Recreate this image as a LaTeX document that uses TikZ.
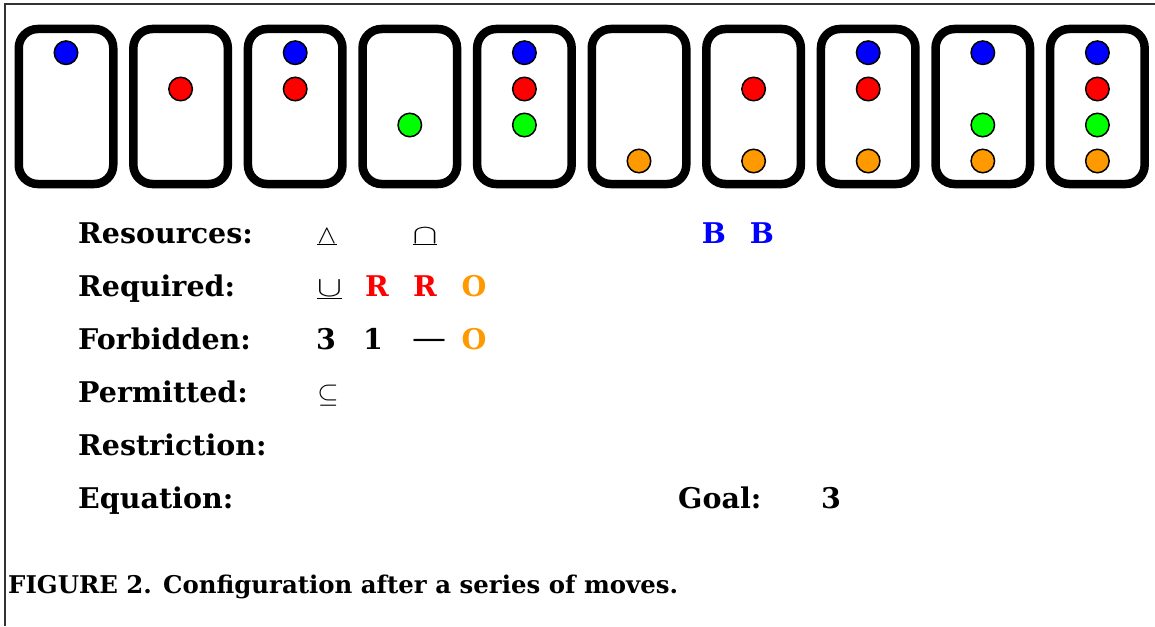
\documentclass[tikz,border=0pt]{standalone}
\usepackage{graphicx}
\usepackage{fontspec}
\setmainfont{DejaVu Serif}
\definecolor{cB}{HTML}{0000FF}
\definecolor{cR}{HTML}{FF0000}
\definecolor{cG}{HTML}{00FF00}
\definecolor{cO}{HTML}{FF9900}
\definecolor{frameg}{HTML}{333333}
\begin{document}
\begin{tikzpicture}[x=1pt,y=-1pt,
  card/.style={draw=black,line width=8.5pt,rounded corners=19pt,minimum width=94.5pt,minimum height=155pt,inner sep=0pt},
  dot/.style={circle,draw=black,line width=1.5pt,minimum size=23.5pt,inner sep=0pt},
  lab/.style={anchor=base west,inner sep=0pt,font=\fontsize{28.5}{32}\selectfont\bfseries},
  sym/.style={anchor=base,inner sep=0pt,font=\fontsize{28.5}{32}\selectfont\bfseries},
  msym/.style={anchor=base,inner sep=0pt,font=\fontsize{24.88}{30}\selectfont},
  dashtxt/.style={anchor=base,inner sep=0pt,font=\fontsize{34}{40}\selectfont},
  captxt/.style={anchor=base west,inner sep=0pt,font=\fontsize{24.4}{28}\selectfont\bfseries}]
\useasboundingbox (0,0) rectangle (1155,626);
\draw[frameg,line width=2pt] (1155,4.5) -- (4.5,4.5) -- (4.5,626);
% cards
\foreach \i/\cols in {1/{B/52.7},2/{R/89},3/{B/52.7,R/89},4/{G/125},5/{B/52.7,R/89,G/125},6/{O/161},7/{R/89,O/161},8/{B/52.7,R/89,O/161},9/{B/52.7,G/125,O/161},10/{B/52.7,R/89,G/125,O/161}}{
  \pgfmathsetmacro\cx{66+114.6*(\i-1)}
  \node[card] (card\i) at (\cx,106.5) {};
  \foreach \c/\yy in \cols {
    \node[dot,fill=c\c] (dot\i\c) at (\cx,\yy) {};
  }
}
% labels
\node[lab] (lres) at (78,243) {Resources:};
\node[lab] (lreq) at (78,296.5) {Required:};
\node[lab] (lfor) at (78,349.5) {Forbidden:};
\node[lab] (lper) at (78,402.5) {Permitted:};
\node[lab] (lrst) at (78,455.5) {Restriction:};
\node[lab] (lequ) at (78,508.5) {Equation:};
\node[lab] (lgoal) at (678,508.5) {Goal:};
\node[sym] (goalv) at (831,508.5) {3};
% resources
\node[msym] (s1) at (327,243) {\scalebox{1.15}[1.05]{$\underline{\wedge}$}};
\node[msym] (s2) at (425,243) {\scalebox{1.5}[1.1]{$\underline{\cap}$}};
\node[sym,text=cB] (b1) at (714,243) {B};
\node[sym,text=cB] (b2) at (762,243) {B};
% required
\node[msym] (s3) at (329.5,296.5) {\scalebox{1.5}[1.15]{$\underline{\cup}$}};
\node[sym,text=cR] (r1) at (377,296.5) {R};
\node[sym,text=cR] (r2) at (425,296.5) {R};
\node[sym,text=cO] (o1) at (474,296.5) {O};
% forbidden
\node[sym] (f1) at (326,349.5) {3};
\node[sym] (f2) at (373,349.5) {1};
\node[dashtxt] (f3) at (429,349.5) {—};
\node[sym,text=cO] (o2) at (474,349.5) {O};
% permitted
\node[msym] (s4) at (328,402.5) {\scalebox{1.1}{$\subseteq$}};
% caption
\node[captxt] (caption) at (8,593) {FIGURE 2. Configuration after a series of moves.};
\end{tikzpicture}
\end{document}
